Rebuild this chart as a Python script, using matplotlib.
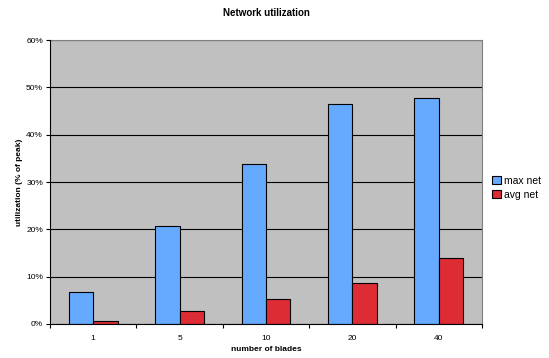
import numpy as np
import matplotlib.pyplot as plt
from matplotlib.ticker import FuncFormatter

plt.rcParams['font.family'] = ['Liberation Sans', 'DejaVu Sans']

blades = ['1', '5', '10', '20', '40']
max_net = [6.7, 20.7, 33.8, 46.5, 47.8]
avg_net = [0.6, 2.7, 5.2, 8.6, 13.9]

fig = plt.figure(figsize=(5.49, 3.58), dpi=100)
ax = fig.add_axes([0.091, 0.095, 0.787, 0.793])
ax.set_facecolor('#C0C0C0')

x = np.arange(len(blades))
w = 0.283
ax.bar(x - w / 2, max_net, w, color='#66AAFF', edgecolor='black', lw=0.8,
       label='max net', zorder=3)
ax.bar(x + w / 2, avg_net, w, color='#DD2C34', edgecolor='black', lw=0.8,
       label='avg net', zorder=3)

ax.set_xlim(-0.5, len(blades) - 0.5)
ax.set_ylim(0, 60)
ax.set_yticks(np.arange(0, 61, 10))
ax.yaxis.set_major_formatter(FuncFormatter(lambda v, p: f'{v:.0f}%'))
ax.set_xticks(x)
ax.set_xticklabels(blades)
ax.set_xticks(np.arange(-0.5, len(blades), 1), minor=True)
ax.tick_params(axis='x', which='major', length=0, labelsize=6, pad=8)
ax.tick_params(axis='x', which='minor', length=3, direction='out', width=0.8)
ax.tick_params(axis='y', length=3, direction='out', width=0.8, labelsize=6, pad=2)
ax.grid(axis='y', color='black', lw=0.8, zorder=1)

for s in ['top', 'right']:
    ax.spines[s].set_color('#808080')
    ax.spines[s].set_linewidth(0.8)
for s in ['left', 'bottom']:
    ax.spines[s].set_color('black')
    ax.spines[s].set_linewidth(0.8)
    ax.spines[s].set_zorder(4)

ax.set_xlabel('number of blades', fontsize=6, fontweight='bold', labelpad=3)
ax.set_ylabel('utilization (% of peak)', fontsize=6, fontweight='bold', labelpad=2)
ax.set_title('Network utilization', fontsize=7, fontweight='bold', pad=17)

leg = ax.legend(loc='center left', bbox_to_anchor=(1.0, 0.48), frameon=False,
                fontsize=7.5, handlelength=0.8, handleheight=0.8,
                handletextpad=0.3, labelspacing=0.4, borderaxespad=0.6)

fig.savefig('out.png', dpi=100)
